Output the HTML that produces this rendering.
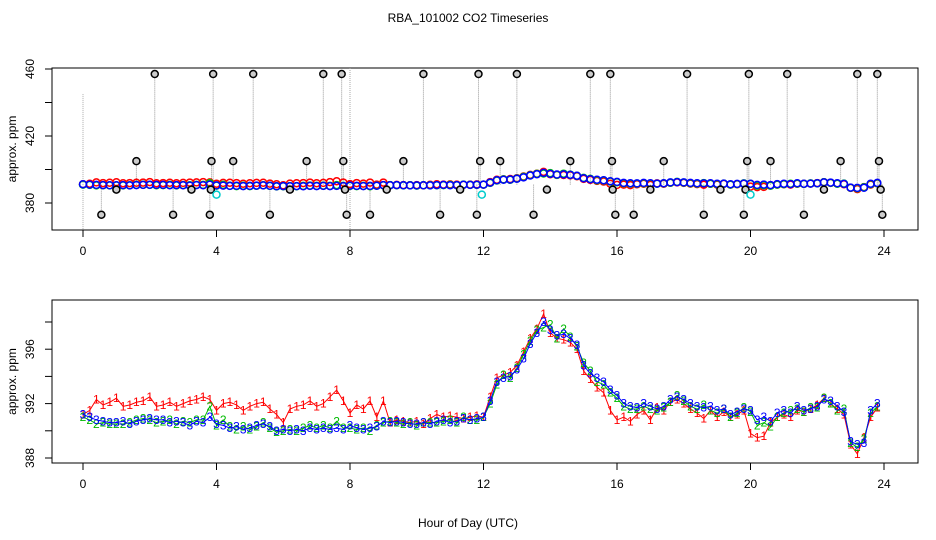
<!DOCTYPE html>
<html><head><meta charset="utf-8"><style>
html,body{margin:0;padding:0;background:#fff}
svg{display:block;font-family:"Liberation Sans",sans-serif}
</style></head><body>
<svg id="c" width="936" height="540" viewBox="0 0 936 540">
<text x="468" y="22" text-anchor="middle" font-size="12">RBA_101002  CO2 Timeseries</text>
<text x="468" y="527" text-anchor="middle" font-size="12">Hour of Day (UTC)</text>
<g id="topPanel"></g>
<g id="botPanel"></g>
</svg>
<script>
const hourStep = 0.2;
const blue = [391.2,391.0,390.8,390.7,390.6, 390.6,390.7,390.5,390.7,390.8, 390.9,390.8,390.8,390.6,390.7, 390.6,390.4,390.7,390.6,391.0,
390.5,390.4,390.2,390.3,390.1, 390.2,390.4,390.5,390.3,390.0, 390.1,390.0,390.1,390.0,390.2, 390.1,390.2,390.1,390.2,390.1,
390.4,390.2,390.1,390.2,390.3, 390.7,390.6,390.7,390.6,390.5, 390.5,390.6,390.5,390.7,390.8, 390.6,390.7,390.9,390.8,390.9,
391.0,392.2,393.6,393.9,394.0, 394.5,395.3,396.4,397.2,398.0, 397.4,397.0,397.1,396.8,396.3, 394.8,394.2,393.9,393.6,393.0,
392.6,392.0,391.8,391.7,392.0, 391.8,391.6,391.8,392.3,392.5, 392.3,392.0,391.8,391.7,391.8, 391.5,391.6,391.2,391.4,391.6,
391.5,390.8,391.0,390.7,391.3, 391.5,391.3,391.8,391.5,391.6, 391.8,392.3,392.2,391.8,391.4, 389.2,389.0,389.1,391.5,392.0];
const red = [391.2,391.5,392.3,391.9,392.1, 392.4,391.8,391.9,392.1,392.2, 392.5,391.8,391.9,392.1,391.8, 392.0,392.2,392.3,392.5,392.3,
391.5,392.0,392.1,391.9,391.5, 391.8,392.0,392.1,391.6,391.2, 390.6,391.6,391.8,391.9,392.2, 391.8,392.0,392.5,393.0,392.2,
391.3,391.9,391.6,392.2,391.0, 392.2,390.6,390.8,390.7,390.6, 390.7,390.5,390.9,391.2,391.0, 391.1,391.0,390.9,391.0,391.1,
391.0,392.5,393.9,394.1,394.3, 394.8,395.8,396.8,397.5,398.6, 397.2,396.8,396.7,396.5,396.0, 394.4,393.8,393.2,392.8,391.5,
390.8,391.0,390.7,391.2,391.5, 390.8,391.7,391.5,392.1,392.3, 392.0,391.6,391.3,390.9,391.5, 391.0,391.4,391.0,391.2,391.5,
389.8,389.5,389.6,390.6,391.0, 391.2,391.0,391.5,391.4,391.6, 391.9,392.4,392.0,391.6,391.2, 389.0,388.3,389.5,391.0,391.7];
const green = [391.0,390.8,390.5,390.6,390.5, 390.5,390.5,390.6,390.8,390.9, 390.8,390.6,390.7,390.8,390.5, 390.7,390.6,390.8,390.8,391.8,
390.4,390.8,390.3,390.1,390.3, 390.1,390.3,390.6,390.2,389.9, 390.0,390.1,390.0,390.2,390.4, 390.2,390.4,390.2,390.7,390.2,
390.2,390.1,390.2,390.0,390.4, 390.6,390.7,390.6,390.5,390.6, 390.4,390.6,390.6,390.6,390.7, 390.8,390.6,391.0,390.8,390.8,
391.0,392.0,393.4,394.1,393.9, 394.6,395.6,396.6,397.4,397.6, 397.8,396.8,397.5,396.9,396.2, 395.0,394.4,393.6,393.4,392.8,
392.4,391.8,391.6,391.6,391.8, 391.6,391.5,391.7,392.1,392.6, 392.2,391.8,391.6,391.9,391.5, 391.3,391.6,391.0,391.3,391.7,
391.4,390.4,390.6,390.3,391.0, 391.3,391.5,391.6,391.4,391.7, 391.7,392.4,392.0,391.5,391.6, 389.1,388.8,389.4,391.3,391.8];
const outlierHours = [0.55,1.0,1.6,2.15,2.7,3.25,3.8,3.85,3.9,3.83,4.5,5.1,5.6,6.2,6.7,7.2,7.75,7.8,7.85,7.9,8.6,9.1,9.6,10.2,10.7,11.3,11.85,11.9,11.8,12.5,13.0,13.5,13.9,14.6,15.2,15.8,15.85,15.87,15.95,16.5,17.0,17.4,18.1,18.6,19.1,19.8,19.85,19.9,19.95,20.6,21.1,21.6,22.2,22.7,23.2,23.8,23.85,23.9,23.95];
const outlierVals = [373,388,405,457,373,388,373,405,457,388,405,457,373,388,405,457,457,405,388,373,373,388,405,457,373,388,457,405,373,405,457,373,388,405,457,457,405,388,373,373,388,405,457,373,388,373,388,405,457,405,457,373,388,405,457,457,405,388,373];
const cyanHours = [4.0,11.95,20.0];
const cyanVals = [385,385,385];
const xTicks = [0,4,8,12,16,20,24];
const topTicks = [380,400,420,440,460];
const topTickLabels = ["380","","420","","460"];
const botTicks = [388,390,392,394,396,398];
const botTickLabels = ["388","","392","","396",""];

const NS="http://www.w3.org/2000/svg";
function mk(p,t,a){const e=document.createElementNS(NS,t);for(const k in a)e.setAttribute(k,a[k]);p.appendChild(e);return e;}
const X=h=>83+h*33.375;
const YT=v=>203-(v-380)*1.675;
const YB=v=>458-(v-388)*13.6;

function axes(g,t0,b0,yf,ticks,labels,name){
  const b=mk(g,'rect',{x:52,y:t0,width:866,height:b0-t0,fill:'none',stroke:'#000'});
  
  
  xTicks.forEach(t=>{
    mk(g,'line',{x1:X(t),x2:X(t),y1:b0,y2:b0+7,stroke:'#000'});
    const tx=mk(g,'text',{x:X(t),y:b0+25,'text-anchor':'middle','font-size':12});
    tx.textContent=t;
    
    
  });
  ticks.forEach((t,i)=>{
    mk(g,'line',{x1:45,x2:52,y1:yf(t),y2:yf(t),stroke:'#000'});
    if(labels[i]){
      const tx=mk(g,'text',{x:34,y:yf(t),'text-anchor':'middle','font-size':12,transform:`rotate(-90 34 ${yf(t)})`});
      tx.textContent=labels[i];
      
      
    }
  });
  const yc=(t0+b0)/2;
  const yt=mk(g,'text',{x:16,y:yc,'text-anchor':'middle','font-size':12,transform:`rotate(-90 16 ${yc})`});
  yt.textContent='approx. ppm';
  
  
}
const gTop=document.getElementById('topPanel'), gBot=document.getElementById('botPanel');
axes(gTop,68,230,YT,topTicks,topTickLabels,'top');
axes(gBot,300,463,YB,botTicks,botTickLabels,'bottom');

mk(gTop,'line',{x1:X(0),x2:X(0),y1:YT(445),y2:230,stroke:'#aaa','stroke-dasharray':'1 1'});
mk(gTop,'line',{x1:X(8),x2:X(8),y1:68,y2:230,stroke:'#aaa','stroke-dasharray':'1 1'});
outlierHours.forEach((h,i)=>{
  mk(gTop,'line',{x1:X(h),x2:X(h),y1:YT(391),y2:YT(outlierVals[i]),stroke:'#999','stroke-dasharray':'1 1'});
});
function circles(g,arr,col,name){
  arr.forEach((v,i)=>{
    const c=mk(g,'circle',{cx:X(i*hourStep),cy:YT(v),r:3.5,fill:'none',stroke:col,'stroke-width':1.5});
    
    
  });
}
circles(gTop,red,'#f00','top-series-1-point');
circles(gTop,green,'#0c0','top-series-2-point');
circles(gTop,blue,'#00f','top-series-3-point');
outlierHours.forEach((h,i)=>{
  const c=mk(gTop,'circle',{cx:X(h),cy:YT(outlierVals[i]),r:3.5,fill:'#ccc',stroke:'#000','stroke-width':1.5});
  
  
});
cyanHours.forEach((h,i)=>{
  const c=mk(gTop,'circle',{cx:X(h),cy:YT(cyanVals[i]),r:3.5,fill:'none',stroke:'#0cc','stroke-width':1.5});
  
  
});

function series(g,arr,col,lab,name){
  const pts=arr.map((v,i)=>X(i*hourStep)+','+YB(v)).join(' ');
  const pl=mk(g,'polyline',{points:pts,fill:'none',stroke:col,'stroke-width':1});
  
  
  arr.forEach((v,i)=>{
    const t=mk(g,'text',{x:X(i*hourStep),y:YB(v)+4,'text-anchor':'middle','font-size':12,fill:col});
    t.textContent=lab;
    
    
  });
}
series(gBot,red,'#f00','1','bottom-series-1');
series(gBot,green,'#0b0','2','bottom-series-2');
series(gBot,blue,'#00f','3','bottom-series-3');
</script>
</body></html>
